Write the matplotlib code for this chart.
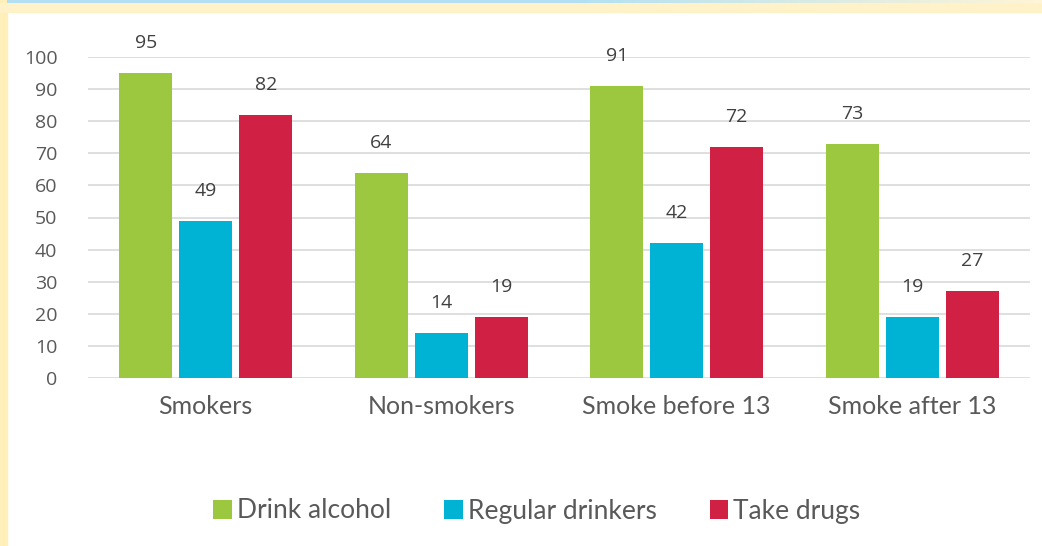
import matplotlib.pyplot as plt
import numpy as np
from matplotlib.patches import Rectangle

categories = ['Smokers', 'Non-smokers', 'Smoke before 13', 'Smoke after 13']
series_names = ['Drink alcohol', 'Regular drinkers', 'Take drugs']
drink_alcohol = [95, 64, 91, 73]
regular_drinkers = [49, 14, 42, 19]
take_drugs = [82, 19, 72, 27]
yticks = [0, 10, 20, 30, 40, 50, 60, 70, 80, 90, 100]

colors = ['#9BC83E', '#00B3D5', '#D02145']
num_font = 'Open Sans'
label_font = 'Lato'

W, H = 1042, 546
fig = plt.figure(figsize=(W / 100, H / 100), dpi=100)
fig.patch.set_facecolor('white')

# frame decorations: yellow strips and blue gradient on top
fig.add_artist(Rectangle((0, 0), 7 / W, 1, transform=fig.transFigure,
                         color='#FFEFB8', zorder=0))
fig.add_artist(Rectangle((0, 1 - 12 / H), 1, 9 / H, transform=fig.transFigure,
                         color='#FFF2C8', zorder=0))
grad_ax = fig.add_axes([7 / W, 1 - 3 / H, 1 - 7 / W, 3 / H])
grad = np.linspace(0, 1, 256).reshape(1, -1)
c0 = np.array([0.70, 0.88, 0.95])
c1 = np.array([1.0, 0.96, 0.84])
img = c0 + (c1 - c0) * np.clip((grad[..., None] - 0.55) / 0.45, 0, 1)
grad_ax.imshow(img, aspect='auto')
grad_ax.axis('off')

ax = fig.add_axes([88 / W, (H - 378) / H, 942 / W, (378 - 57) / H])
x = np.arange(len(categories))
step = 0.255
width = 0.225
for i, (name, vals) in enumerate(zip(series_names, [drink_alcohol, regular_drinkers, take_drugs])):
    pos = x + (i - 1) * step
    bars = ax.bar(pos, vals, width, color=colors[i], label=name, zorder=3)
    for b, v in zip(bars, vals):
        ax.text(b.get_x() + b.get_width() / 2, v + 9.3, str(v), ha='center', va='center',
                fontsize=14, color='#404040', family=num_font, clip_on=False)

ax.set_xlim(-0.5, len(categories) - 0.5)
ax.set_ylim(0, 100)
ax.set_yticks(yticks)
ax.set_yticklabels([str(t) for t in yticks], family=num_font, fontsize=14, color='#595959')
ax.set_xticks(x)
ax.set_xticklabels(categories, family=label_font, fontsize=18, color='#595959')
ax.tick_params(axis='both', length=0)
ax.tick_params(axis='y', pad=22)
ax.tick_params(axis='x', pad=12)
ax.grid(axis='y', color='#D9D9D9', linewidth=1.2, zorder=0)
for s in ax.spines.values():
    s.set_visible(False)

ax.legend(loc='center', bbox_to_anchor=(537 / W, 1 - 511 / H), bbox_transform=fig.transFigure,
          ncol=3, frameon=False, handlelength=0.7, handleheight=0.7, handletextpad=0.2,
          columnspacing=2.0, prop={'family': label_font, 'size': 19},
          labelcolor='#595959')

fig.savefig('out.png', dpi=100)
